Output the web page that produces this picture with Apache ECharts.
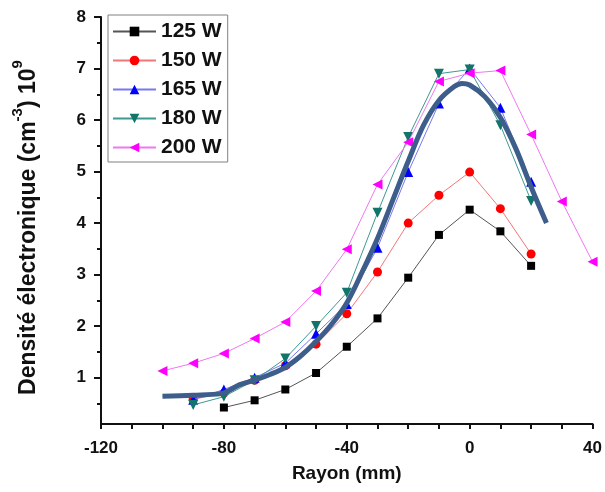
<!DOCTYPE html>
<html>
<head>
<meta charset="utf-8">
<script src="https://cdn.jsdelivr.net/npm/echarts@6/dist/echarts.min.js"></script>
<style>
html,body{margin:0;padding:0;background:#fff;}
#chart{width:605px;height:492px;}
</style>
</head>
<body>
<div id="chart"></div>
<script>
// ---- data ----
const seriesNames = ['125 W', '150 W', '165 W', '180 W', '200 W'];
const radius125 = [-80, -70, -60, -50, -40, -30, -20, -10, 0, 10, 20];
const dens125   = [0.42, 0.56, 0.77, 1.09, 1.60, 2.15, 2.94, 3.77, 4.26, 3.84, 3.17];
const radius150 = [-90, -80, -70, -60, -50, -40, -30, -20, -10, 0, 10, 20];
const dens150   = [0.58, 0.70, 0.95, 1.23, 1.65, 2.24, 3.05, 4.00, 4.54, 4.99, 4.28, 3.40];
const radius165 = [-90, -80, -70, -60, -50, -40, -30, -20, -10, 0, 10, 20];
const dens165   = [0.57, 0.77, 1.00, 1.28, 1.85, 2.43, 3.52, 4.99, 6.32, 7.00, 6.24, 4.80];
const radius180 = [-90, -80, -70, -60, -50, -40, -30, -20, -10, 0, 10, 20];
const dens180   = [0.47, 0.63, 0.95, 1.37, 2.00, 2.65, 4.20, 5.67, 6.90, 6.98, 5.90, 4.43];
const radius200 = [-100, -90, -80, -70, -60, -50, -40, -30, -20, -10, 0, 10, 20, 30, 40];
const dens200   = [1.13, 1.28, 1.47, 1.76, 2.08, 2.68, 3.49, 4.75, 5.57, 6.75, 6.91, 6.96, 5.72, 4.42, 3.25];
// fitted curve (thick line)
const fitX = [-100, -90, -81, -78, -75, -70, -65, -60, -55, -50, -45, -40, -35, -30, -25, -20, -15, -10, -5, -2.5, 0, 5, 10, 15, 20, 25];
const fitY = [0.64, 0.66, 0.69, 0.76, 0.86, 0.95, 1.06, 1.20, 1.42, 1.70, 2.03, 2.45, 3.05, 3.70, 4.45, 5.20, 5.90, 6.38, 6.65, 6.71, 6.68, 6.45, 6.05, 5.45, 4.70, 4.00];
// ticks
const xTicks = [-120, -80, -40, 0, 40];
const xMinorTicks = [-110, -100, -90, -70, -60, -50, -30, -20, -10, 10, 20, 30];
const yTicks = [1, 2, 3, 4, 5, 6, 7, 8];
const yMinorTicks = [0.5, 1.5, 2.5, 3.5, 4.5, 5.5, 6.5, 7.5];

const zip = (xs, ys) => xs.map((x, i) => [x, ys[i]]);

const FONT = 'Liberation Sans, Arial, sans-serif';
const downTri = 'path://M0,0 L10,0 L5,9 Z';
const leftTri = 'path://M9,0 L9,10 L0,5 Z';

const styles = [
  {sym: 'rect', size: 8, color: '#000000', line: '#555555'},
  {sym: 'circle', size: 9, color: '#ff0000', line: '#f07878'},
  {sym: 'triangle', size: 10, color: '#0000ff', line: '#7878f0'},
  {sym: downTri, size: 10, color: '#11756b', line: '#3c9a90'},
  {sym: leftTri, size: 10, color: '#ff00ff', line: '#f078f0'}
];
const dataSets = [zip(radius125, dens125), zip(radius150, dens150), zip(radius165, dens165), zip(radius180, dens180), zip(radius200, dens200)];

const series = dataSets.map((d, i) => ({
  name: seriesNames[i],
  type: 'line',
  data: d,
  symbol: styles[i].sym,
  symbolSize: styles[i].size,
  itemStyle: {color: styles[i].color},
  lineStyle: {color: styles[i].line, width: 1},
  z: 2 + i
}));
series.push({
  name: 'fit',
  type: 'line',
  data: zip(fitX, fitY),
  smooth: 0.35,
  symbol: 'none',
  lineStyle: {color: '#3d5d8a', width: 5},
  z: 10
});

const axisText = {fontFamily: FONT, fontWeight: 'bold', fontSize: 17, color: '#111'};

const chart = echarts.init(document.getElementById('chart'), null, {renderer: 'canvas'});
chart.setOption({
  animation: false,
  backgroundColor: '#ffffff',
  grid: {left: 101, right: 9, top: 17, bottom: 68, containLabel: false},
  legend: {
    data: seriesNames,
    orient: 'vertical',
    left: 108,
    top: 15,
    padding: [6, 6, 4, 4],
    itemGap: 8,
    itemWidth: 43,
    itemHeight: 12,
    borderColor: '#808080',
    borderWidth: 1,
    textStyle: {fontFamily: FONT, fontWeight: 'bold', fontSize: 21, color: '#111', lineHeight: 20}
  },
  xAxis: {
    type: 'value', min: -120, max: 40,
    name: 'Rayon (mm)', nameLocation: 'middle', nameGap: 40,
    nameTextStyle: {fontFamily: FONT, fontWeight: 'bold', fontSize: 19, color: '#111'},
    axisLine: {onZero: false, lineStyle: {color: '#111', width: 2}},
    axisTick: {customValues: xTicks.concat(xMinorTicks), length: 5, lineStyle: {color: '#111', width: 2}},
    axisLabel: Object.assign({customValues: xTicks, margin: 16}, axisText),
    splitLine: {show: false}
  },
  yAxis: [{
    type: 'value', min: 0.1, max: 8,
    name: '{a|Densité électronique (cm}{s|-3}{a|) 10}{s|9}{p| }',
    nameLocation: 'middle', nameGap: 61, nameRotate: 90,
    nameTextStyle: {
      rich: {
        a: {fontFamily: FONT, fontWeight: 'bold', fontSize: 23, color: '#111', lineHeight: 30, verticalAlign: 'bottom'},
        s: {fontFamily: FONT, fontWeight: 'bold', fontSize: 15, color: '#111', lineHeight: 30, verticalAlign: 'top'},
        p: {width: 14, lineHeight: 30}
      }
    },
    axisLine: {onZero: false, lineStyle: {color: '#111', width: 2}},
    axisTick: {customValues: yTicks, length: 7, lineStyle: {color: '#111', width: 2}},
    axisLabel: Object.assign({customValues: yTicks, margin: 15}, axisText),
    splitLine: {show: false}
  }, {
    type: 'value', min: 0.1, max: 8, position: 'left',
    axisLine: {show: false, onZero: false},
    axisTick: {customValues: yMinorTicks, length: 4, lineStyle: {color: '#111', width: 2}},
    axisLabel: {show: false},
    splitLine: {show: false}
  }],
  series: series
});
</script>
</body>
</html>
